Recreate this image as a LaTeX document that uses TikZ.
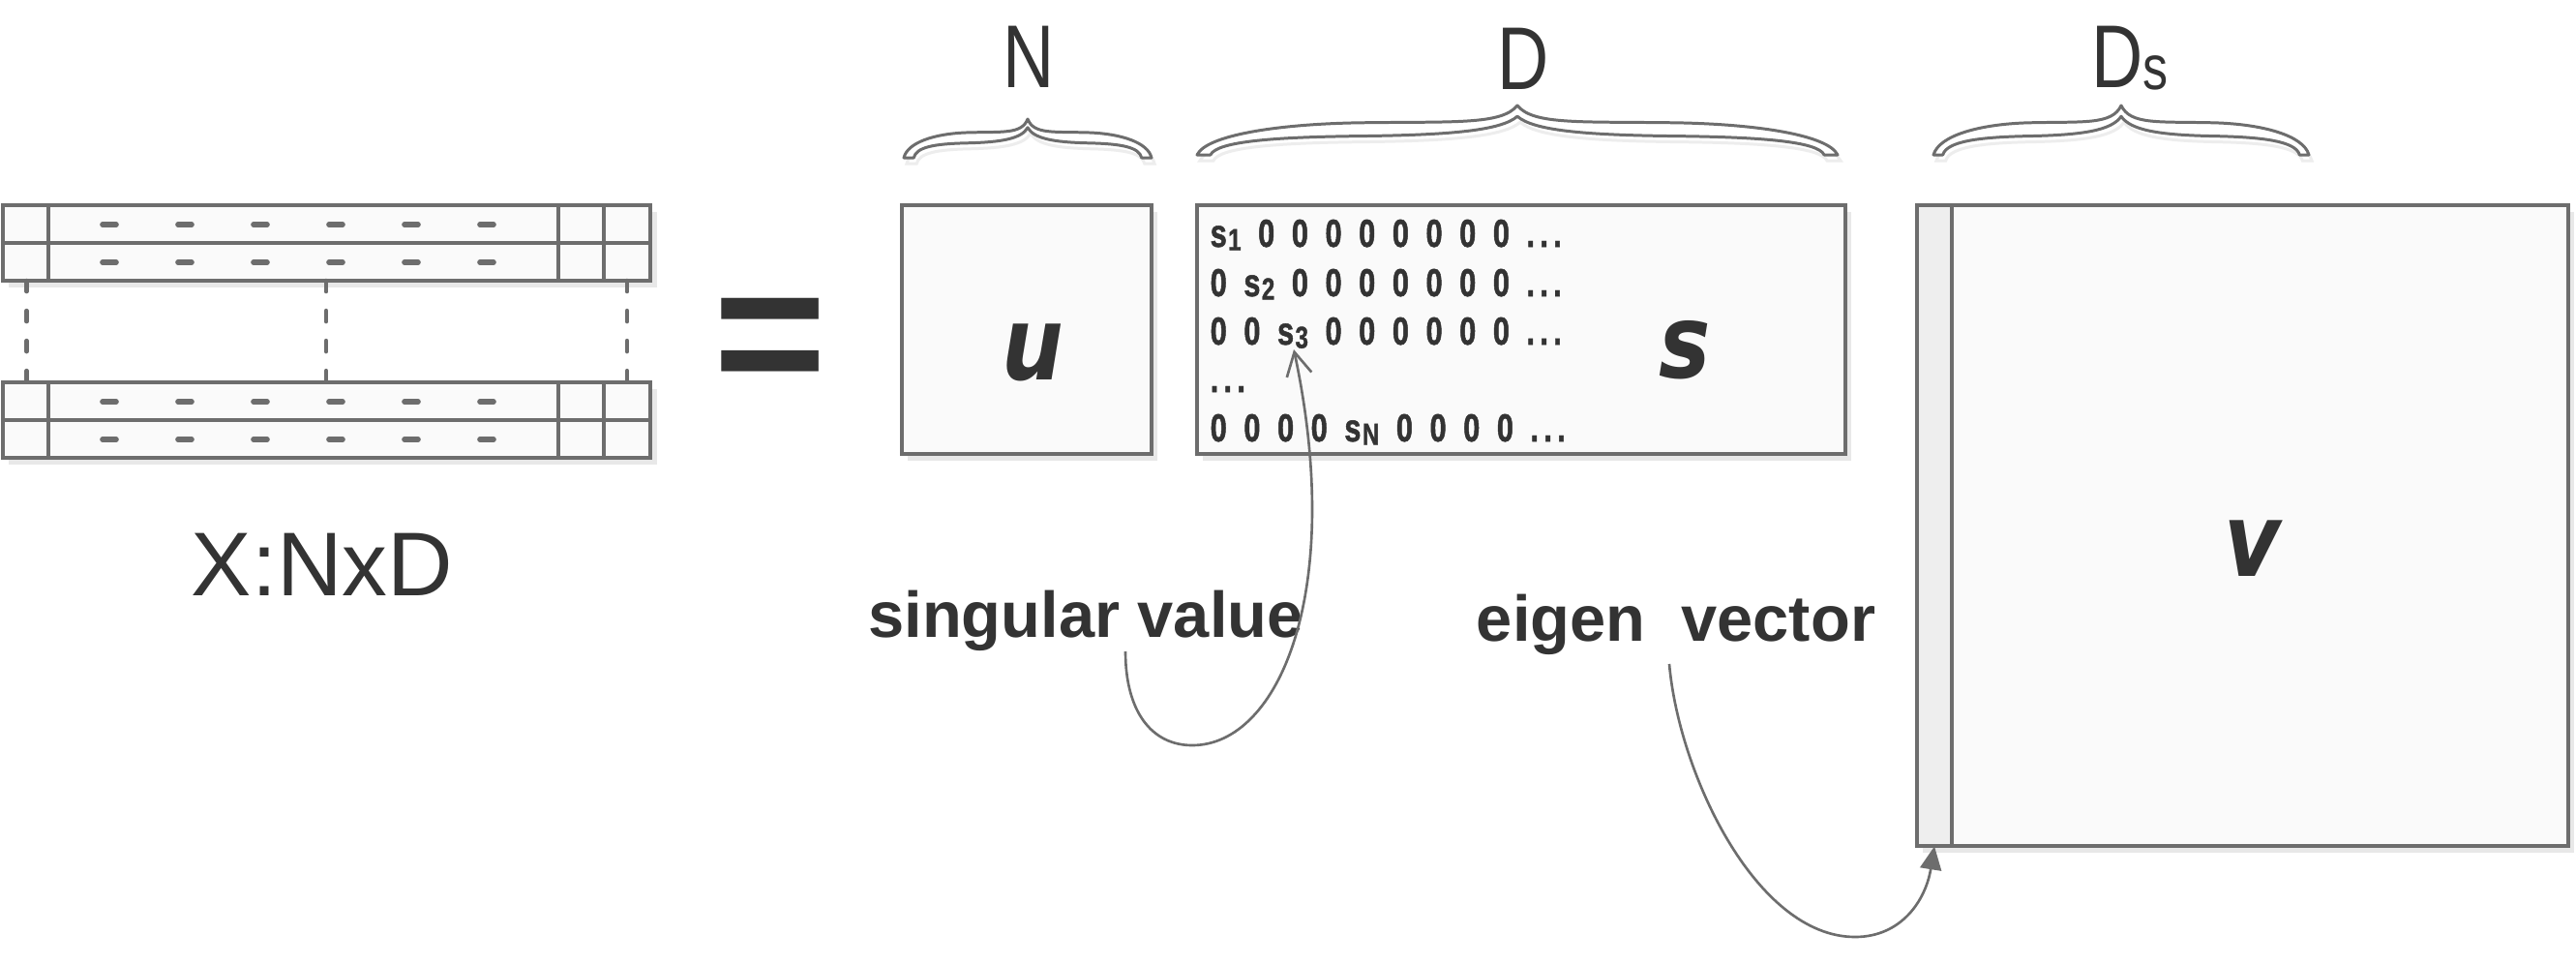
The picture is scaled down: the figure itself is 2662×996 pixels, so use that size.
\documentclass[tikz,border=0pt]{standalone}
\usepackage{fontspec}
\setmainfont{Liberation Sans}
\newfontfamily\condfont[FakeStretch=0.8]{Liberation Sans}
\newfontfamily\cellfont[FakeStretch=0.76, FakeBold=1.2]{Liberation Sans Bold}
\newfontfamily\handfont[FakeStretch=0.85]{DejaVu Sans}
\usetikzlibrary{arrows.meta}
\definecolor{lc}{HTML}{6D6D6D}
\definecolor{tc}{HTML}{333333}
\definecolor{bf}{HTML}{FAFAFA}
\definecolor{cf}{HTML}{EEEEEE}
\definecolor{sh}{HTML}{E8E8E8}
\newcommand{\sv}[1]{s\kern0.4pt\raisebox{-1pt}{\fontsize{9}{9}\selectfont #1}}
\newcommand{\dts}{.\kern1.5pt.\kern1.5pt.}
\newcommand{\rowsp}{\spaceskip=5.0pt\relax}
\newcommand{\bracepath}[1]{(-1,1) .. controls (-0.97,0.6) and (-0.75,0.38) .. (-0.5,0.35) .. controls (-0.2,0.32) and (-0.05,0.4) .. (0,0) .. controls (0.05,0.4) and (0.2,0.32) .. (0.5,0.35) .. controls (0.75,0.38) and (0.97,0.6) .. (1,1) -- ({1-#1},1) .. controls ({1-#1-0.02},0.72) and (0.75,0.64) .. (0.5,0.62) .. controls (0.2,0.6) and (0.05,0.5) .. (0,0.22) .. controls (-0.05,0.5) and (-0.2,0.6) .. (-0.5,0.62) .. controls (-0.75,0.64) and ({-1+#1+0.02},0.72) .. ({-1+#1},1) -- cycle}
\newcommand{\curlybrace}[5]{%
  \begin{scope}[shift={(#1+3,#2+6)}, xscale=#3, yscale=#4]
    \path[draw=black!7, line width=0.85pt] \bracepath{#5};
  \end{scope}
  \begin{scope}[shift={(#1,#2)}, xscale=#3, yscale=#4]
    \path[bracestyle] \bracepath{#5};
  \end{scope}}
\tikzset{
  box/.style={draw=lc, line width=1.1pt, fill=bf, inner sep=0pt, outer sep=0pt, anchor=north west},
  txt/.style={text=tc, inner sep=0pt, anchor=base},
  rowtxt/.style={text=tc, inner sep=0pt, anchor=base west, font=\cellfont\fontsize{11.5}{11.5}\selectfont},
  conn/.style={draw=lc, line width=0.75pt},
  bracestyle/.style={draw=lc, line width=0.85pt, fill=white, line join=round},
  dashmark/.style={draw=lc, line width=1.6pt, line cap=round},
  vdash/.style={draw=lc, line width=1.3pt, line cap=round, dash pattern=on 0.11cm off 0.2cm},
  divider/.style={draw=lc, line width=1.1pt},
}
\begin{document}
\begin{tikzpicture}[x=0.01cm, y=-0.01cm]
\useasboundingbox (0,0) rectangle (2662,996);
\fill[white] (0,0) rectangle (2662,996);

% ---- left matrix X ----
\foreach \y in {212,251,395,434} {
  \fill[sh] (9,\y+7) rectangle (679,\y+46);
}
\foreach \n/\y in {r1/212, r2/251, r3/395, r4/434} {
  \node[box, minimum width=6.69cm, minimum height=0.39cm] (\n) at (3,\y) {};
  \foreach \dx in {47,574,621} {
    \draw[divider] ([xshift=\dx*0.01cm]\n.north west) -- ([xshift=\dx*0.01cm]\n.south west);
  }
  \foreach \x in {113,191,269,347,425,503} {
    \draw[dashmark] (\x-7,\y+20) -- (\x+7,\y+20);
  }
}
\foreach \dx in {24.5,334,645} {
  \draw[vdash] ([xshift=\dx*0.01cm]r2.south west) -- ([xshift=\dx*0.01cm]r3.north west);
}
\node[txt, font=\fontsize{26.6}{26.6}\selectfont] (xl) at (333,615) {X:NxD};

% ---- equals ----
\node[txt, font=\bfseries\fontsize{57}{57}\selectfont] (eq) at (796,412) {=};

% ---- shadows of boxes ----
\fill[sh] (938,219) rectangle (1196,476);
\fill[sh] (1243,219) rectangle (1913,476);
\fill[sh] (1987,219) rectangle (2660,881);

% ---- U box ----
\node[box, minimum width=2.58cm, minimum height=2.57cm] (U) at (932,212) {};
\node[txt, font=\handfont\bfseries\itshape\fontsize{30}{30}\selectfont] (ul) at (1067,392) {u};

% ---- S box ----
\node[box, minimum width=6.70cm, minimum height=2.57cm] (S) at (1237,212) {};
\node[rowtxt] (row1) at (1250,255) {\rowsp\sv{1} 0 0 0 0 0 0 0 0 \dts};
\node[rowtxt] (row2) at (1250,306) {\rowsp 0 \sv{2} 0 0 0 0 0 0 0 \dts};
\node[rowtxt] (row3) at (1250,356) {\rowsp 0 0 \sv{3} 0 0 0 0 0 0 \dts};
\node[rowtxt] (row4) at (1250,405) {\dts};
\node[rowtxt] (row5) at (1250,456) {\rowsp 0 0 0 0 \sv{N} 0 0 0 0 \dts};
\node[txt, font=\handfont\bfseries\itshape\fontsize{30}{30}\selectfont] (sl) at (1741,390) {s};

% ---- V box ----
\node[box, minimum width=6.73cm, minimum height=6.62cm] (V) at (1981,212) {};
\node[box, fill=cf, minimum width=0.36cm, minimum height=6.62cm] (VC) at (1981,212) {};
\node[txt, font=\handfont\bfseries\itshape\fontsize{30}{30}\selectfont] (vl) at (2328,595) {v};

% ---- braces and labels ----
\curlybrace{1062}{123}{128}{40}{0.08}
\curlybrace{1568}{109}{331}{51}{0.042}
\curlybrace{2192}{109}{194}{51}{0.05}
\node[txt, font=\condfont\fontsize{26.2}{26.2}\selectfont] (nl) at (1063,90) {N};
\node[txt, font=\condfont\fontsize{26.2}{26.2}\selectfont] (dl) at (1574,92) {D};
\node[txt, font=\condfont\fontsize{26.2}{26.2}\selectfont] (dsl) at (2201,90) {D{\fontsize{18.5}{18.5}\selectfont\raisebox{-0.85pt}{s}}};

% ---- annotations ----
\node[txt, font=\bfseries\fontsize{19}{19}\selectfont] (svl) at (1122,658) {singular value};
\node[txt, font=\bfseries\fontsize{19}{19}\selectfont] (evl) at (1732,662) {eigen\ \ vector};
\coordinate (svstart) at (1163,673);
\coordinate (evstart) at (1725,686);
\coordinate (s3tip) at (1337,361);
\draw[conn, -{Straight Barb[length=0.24cm, width=0.26cm]}] (svstart) .. controls (1163,735) and (1190,770) .. (1232,770) .. controls (1322,770) and (1390,610) .. (s3tip);
\draw[conn, -{Triangle[length=0.24cm, width=0.22cm]}] (evstart) .. controls (1735,800) and (1815,968) .. (1917,968) .. controls (1965,968) and (1990,930) .. (VC.south);
\end{tikzpicture}
\end{document}
